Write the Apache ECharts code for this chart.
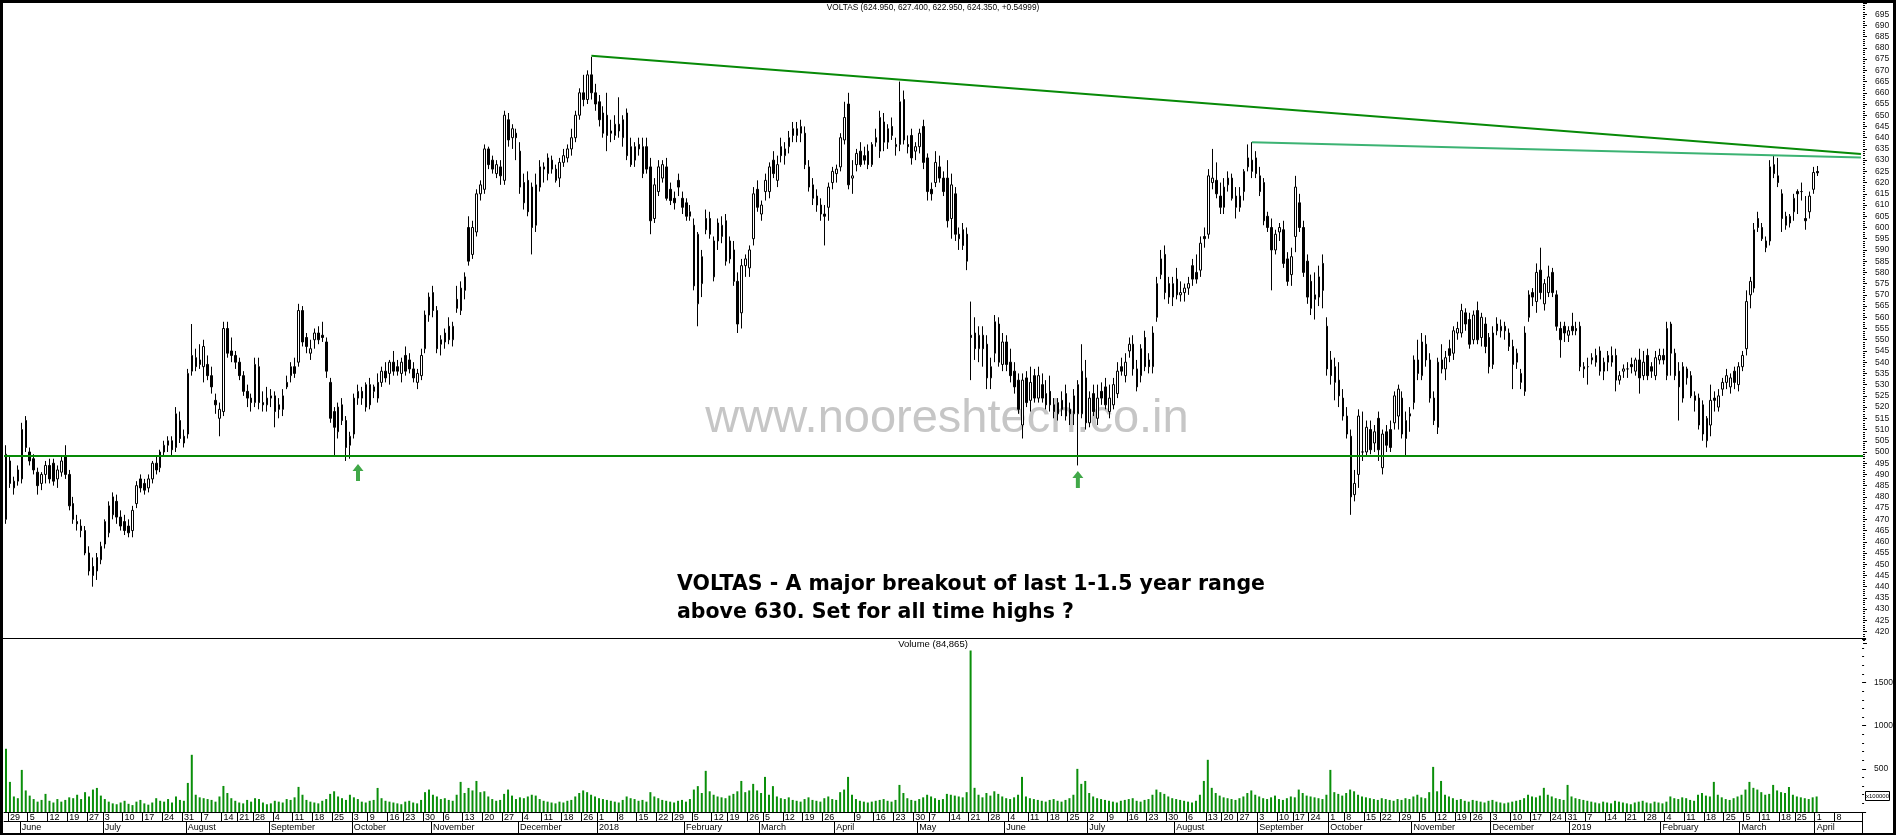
<!DOCTYPE html>
<html><head><meta charset="utf-8">
<script src="https://cdn.jsdelivr.net/npm/echarts@6/dist/echarts.min.js"></script>
<style>html,body{margin:0;padding:0;background:#fff;overflow:hidden}#c{width:1896px;height:835px}</style>
</head><body><div id="c"></div>
<script>
// ---------- calendar ----------
const FIRST_DAY = '2017-05-26';
const HOLIDAYS = ['2017-06-26','2017-08-15','2017-08-25','2017-10-02','2017-10-20','2017-12-25',
 '2018-01-26','2018-02-13','2018-03-02','2018-03-29','2018-03-30','2018-05-01','2018-08-15','2018-08-22',
 '2018-09-13','2018-09-20','2018-10-02','2018-10-18','2018-11-08','2018-11-23','2018-12-25',
 '2019-03-04','2019-03-21','2019-04-17','2019-04-19'];
const EMPTY_SLOTS_AFTER = 11;
const MONTH_NAMES = ['January','February','March','April','May','June','July','August','September','October','November','December'];

// ---------- daily candles [open, high, low, close] ----------
// May 26 2017 - Aug 4 2017
const ohlcA = [[470,503,468,499],[496,498,484,486],[484,489,481,487],[487,494,485,492],[488,513,486,510],[514,516,500,502],[500,502,494,496],[497,499,490,492],[491,493,481,485],[486,491,483,490],
[490,496,486,494],[494,497,486,488],[495,497,485,487],[488,494,484,492],[491,498,489,496],[498,503,488,490],[490,492,474,476],[477,480,468,470],[469,472,465,468],[467,470,462,465],
[465,467,454,455],[455,458,445,447],[449,453,440,445],[447,455,443,453],[452,460,450,458],[459,470,457,469],[464,478,462,476],[472,482,470,480],[478,481,468,471],[471,474,465,467],
[469,472,463,465],[467,470,462,464],[465,476,462,474],[477,487,475,485],[488,490,482,484],[486,488,481,483],[484,490,482,488],[488,496,486,495],[495,498,490,492],[493,501,491,500],
[500,505,498,503],[503,507,500,505],[505,507,498,501],[502,520,500,517],[514,518,504,506],[507,510,502,504],[508,537,506,535],[536,557,534,543],[542,546,536,538],[541,548,537,539]];
// Aug 2017 - Oct 2017
const ohlcB = [[538,550,531,547],[539,543,532,534],[534,538,526,529],[523,526,517,521],[515,522,507,519],[518,558,516,555],[555,558,542,544],[545,551,540,543],[543,545,537,540],[540,542,532,534],
[534,536,525,527],[527,530,520,524],[524,526,518,522],[522,542,520,539],[538,542,519,522],[522,527,518,521],[521,529,518,524],[524,528,520,525],[525,527,511,518],[521,524,515,519],
[519,528,516,525],[531,534,528,529],[534,540,531,538],[538,542,533,535],[540,566,538,563],[563,565,547,549],[551,553,544,547],[544,550,541,546],[550,555,546,553],[553,556,548,550],
[552,558,549,551],[549,551,533,536],[531,533,513,515],[518,520,498,511],[509,522,506,520],[521,524,512,514],[514,516,496,502],[503,509,497,507],[508,526,506,524],[524,530,521,527],
[527,529,521,524],[520,531,518,530],[530,533,519,521],[527,530,524,529],[531,535,522,524],[531,538,529,536],[536,540,531,533],[535,541,530,540],[540,545,534,536],[538,541,534,536]];
// Oct 2017 - Dec 2017
const ohlcC = [[535,542,531,540],[543,547,534,536],[541,544,535,537],[537,540,531,533],[531,537,528,535],[534,546,532,543],[546,563,544,561],[561,571,558,569],[571,574,560,563],[563,565,544,546],
[548,552,543,550],[549,555,546,553],[556,560,548,550],[550,558,547,556],[568,574,562,564],[563,576,561,573],[572,580,568,578],[600,605,583,585],[588,603,586,600],[598,617,596,615],
[615,621,612,619],[617,637,615,635],[635,636,626,628],[630,632,624,626],[624,630,622,628],[627,630,619,623],[621,652,619,650],[648,651,636,639],[640,646,635,644],[642,644,630,640],
[634,638,615,618],[620,624,608,611],[621,625,605,607],[618,620,588,600],[601,624,598,619],[618,630,616,627],[626,629,620,627],[624,633,621,631],[630,632,624,626],[626,628,620,621],
[622,631,618,629],[629,635,627,632],[631,637,629,635],[635,644,632,640],[640,652,638,650],[650,662,648,660],[660,668,654,657],[657,670,655,668],[668,676,657,660],[660,664,652,655]];
// Jan 2018 - Mar 2018
const ohlcD = [[656,659,645,648],[651,654,640,642],[650,660,634,641],[643,648,638,642],[641,650,639,646],[646,658,640,643],[640,650,636,648],[651,653,630,632],[636,640,627,628],[630,638,627,636],
[637,640,632,635],[636,640,622,624],[636,640,624,626],[627,631,597,603],[604,622,602,619],[616,630,614,627],[622,630,620,628],[627,631,612,613],[617,620,610,612],[613,616,608,611],
[621,624,614,618],[613,616,606,609],[611,613,603,605],[605,610,603,607],[601,604,572,574],[566,598,556,597],[575,590,569,587],[604,608,597,599],[604,607,595,597],[578,596,576,594],
[594,604,590,602],[596,605,593,601],[603,606,583,585],[594,596,584,586],[590,594,574,576],[576,580,553,557],[562,586,555,583],[583,588,578,586],[582,592,578,590],[595,618,592,615],
[617,621,607,609],[606,612,603,610],[616,624,612,621],[616,629,613,627],[630,634,622,624],[621,632,618,628],[636,640,629,632],[632,638,628,635],[636,643,633,640],[644,647,638,641]];
// Mar 2018 - May 2018
const ohlcE = [[641,647,638,644],[642,648,638,645],[642,645,626,628],[627,630,616,618],[613,622,610,619],[614,617,607,610],[610,613,603,606],[606,610,592,605],[609,620,603,618],[620,627,617,625],
[624,628,620,626],[627,642,625,640],[639,656,637,649],[655,660,617,619],[622,630,615,623],[628,635,625,633],[634,638,627,628],[632,636,628,630],[634,637,626,628],[628,638,627,637],
[640,644,636,638],[634,652,631,649],[647,651,634,638],[638,646,635,644],[645,649,639,641],[636,640,632,637],[637,665,634,656],[657,661,637,639],[637,641,633,636],[641,644,628,631],
[634,638,630,636],[636,644,633,642],[645,648,626,629],[631,633,612,616],[617,620,612,615],[620,634,618,629],[627,632,620,622],[622,625,614,616],[622,630,600,603],[604,624,595,619],
[615,618,594,597],[597,600,590,595],[599,602,590,592],[597,600,581,585],[552,567,532,551],[553,560,541,546],[546,556,540,552],[552,556,538,546],[548,552,528,533],[533,542,528,538]];
// May 2018 - Aug 2018
const ohlcF = [[544,561,540,558],[557,560,538,540],[539,553,536,549],[549,552,536,539],[540,546,531,534],[536,540,526,529],[532,535,517,519],[512,535,506,532],[533,536,520,522],[523,538,518,531],
[534,537,522,524],[524,538,522,534],[530,535,522,524],[526,532,519,521],[527,534,518,521],[521,524,515,518],[517,524,514,522],[523,527,516,519],[526,530,514,516],[519,522,512,517],
[517,528,512,525],[517,532,494,530],[517,548,515,536],[533,541,510,513],[513,527,511,524],[526,530,516,518],[515,530,512,524],[527,531,521,524],[529,533,519,521],[518,530,515,524],
[521,533,519,530],[526,540,524,536],[538,542,534,536],[534,544,531,540],[545,551,542,548],[548,552,534,537],[537,541,527,529],[534,548,531,546],[551,554,536,538],[541,544,535,538],
[538,556,535,553],[560,578,558,575],[579,590,577,586],[588,592,568,571],[575,578,566,569],[569,578,565,575],[577,582,568,570],[570,576,567,571],[571,575,567,573],[573,578,570,575]];
// Aug 2018 - Oct 2018
const ohlcG = [[583,586,574,577],[580,588,575,577],[581,596,578,593],[596,600,591,595],[597,626,595,623],[620,635,617,622],[621,629,613,615],[614,620,606,609],[609,622,606,618],[619,625,616,622],
[622,624,612,613],[614,618,604,609],[609,618,607,614],[616,626,612,625],[627,637,625,631],[630,638,622,625],[631,634,622,624],[623,627,614,616],[620,622,601,603],[605,607,598,600],
[600,604,572,590],[590,599,588,597],[598,602,594,600],[599,603,582,584],[586,589,574,576],[579,591,574,587],[596,623,589,618],[611,615,598,600],[600,603,578,580],[585,588,566,569],
[576,579,561,564],[568,580,559,570],[569,583,565,578],[584,588,564,572],[556,560,534,537],[541,545,530,534],[531,542,523,538],[532,540,520,525],[524,528,514,516],[516,520,506,508],
[507,510,472,480],[481,492,478,486],[490,519,484,516],[500,518,496,500],[500,514,498,511],[510,514,499,501],[504,512,500,509],[515,518,496,501],[493,510,490,508],[509,512,500,503]];
// Oct 2018 - Jan 2019
const ohlcH = [[510,514,500,502],[513,527,510,525],[516,530,510,528],[524,527,506,508],[506,518,498,514],[517,520,509,516],[522,543,519,541],[541,550,532,535],[534,553,532,549],[548,552,538,541],
[541,544,522,524],[524,527,512,514],[511,542,508,540],[541,548,535,537],[537,545,532,542],[546,550,540,543],[544,556,541,554],[553,558,550,555],[553,566,551,563],[562,564,554,557],
[559,562,546,548],[550,563,548,561],[563,567,548,550],[551,562,547,560],[557,560,544,547],[551,553,535,538],[539,556,537,553],[557,560,552,554],[554,559,551,556],[556,558,550,554],
[547,555,545,553],[547,550,528,539],[540,546,537,544],[531,537,528,535],[527,556,525,553],[560,572,558,570],[571,573,565,569],[567,584,562,580],[581,591,568,571],[566,577,563,575],
[571,583,569,578],[580,582,569,571],[570,572,554,556],[555,558,542,550],[556,558,549,553],[552,556,549,554],[556,562,552,554],[555,558,552,554],[556,558,536,538],[537,540,533,538]];
// Jan 2019 - Apr 1 2019
const ohlcI = [[538,542,530,538],[541,544,539,542],[543,546,538,540],[545,547,534,536],[536,542,532,540],[540,545,536,543],[540,547,538,543],[543,546,527,532],[532,536,530,534],[536,539,533,537],
[537,540,533,537],[539,542,535,538],[536,542,534,541],[541,546,526,533],[534,545,532,540],[543,546,532,534],[538,540,533,536],[534,545,532,542],[541,546,539,543],[543,546,539,541],
[534,558,532,555],[557,558,534,544],[544,546,532,534],[536,540,514,529],[524,540,522,538],[533,538,530,537],[534,536,524,525],[525,527,518,523],[524,526,510,512],[521,523,505,508],
[505,516,502,515],[512,530,507,523],[524,527,518,523],[520,528,518,525],[528,533,525,531],[531,537,528,534],[529,535,526,533],[536,538,528,531],[530,540,527,538],[538,545,536,543],
[546,572,543,567],[570,578,564,576],[573,602,571,599],[604,607,598,600],[600,602,594,595],[591,596,589,594],[594,630,592,627],[628,632,622,624],[623,631,618,620],[615,617,598,604],
[605,607,599,601],[602,606,600,605],[607,615,603,613],[616,617,606,615],[616,620,612,616],[604,614,599,603],[607,616,604,614],[617,627,615,624.5],[624.95,627.4,622.95,624.35]];

// ---------- daily volume (x100000) ----------
const volA = [733,349,180,160,488,250,190,150,120,140,210,130,110,150,120,140,170,160,200,150,230,180,260,279,190,150,120,100,90,110,130,95,80,120,140,100,85,110,160,130,120,150,110,180,140,130,337,663,200,170];
const volB = [160,150,140,120,180,302,220,160,130,110,100,140,120,160,150,110,90,100,130,120,110,150,140,170,291,200,140,120,110,100,130,150,210,240,180,160,140,200,170,150,120,110,130,140,279,160,130,120,110,100];
const volC = [90,120,130,110,100,140,230,260,200,180,150,160,140,130,200,349,220,279,250,360,230,240,180,150,130,140,210,260,190,150,170,160,180,200,190,150,130,120,110,100,120,110,130,140,180,220,250,230,200,180];
const volD = [160,150,140,130,120,110,140,180,160,150,130,140,120,230,180,160,140,130,120,110,130,140,120,150,260,300,220,477,240,200,180,170,160,190,210,240,360,230,250,326,250,220,407,200,300,180,160,150,170,140];
const volE = [130,120,150,170,140,130,120,160,180,150,140,230,260,407,200,150,130,120,110,120,130,140,150,130,120,140,314,220,160,140,130,150,170,200,180,160,140,150,210,200,190,180,170,230,1872,280,200,170,220,190];
const volF = [240,210,180,160,150,170,200,407,180,160,150,140,130,120,140,150,130,120,140,160,200,500,326,360,220,180,160,150,140,130,120,110,130,140,150,160,130,120,140,150,200,260,230,210,180,160,150,140,130,120];
const volG = [110,130,200,360,605,280,220,190,170,160,150,140,160,180,220,250,200,180,160,150,170,190,150,140,160,180,170,260,220,190,180,170,160,150,200,488,230,210,190,220,260,240,200,180,170,160,150,140,160,150];
const volH = [140,130,150,140,160,150,180,200,170,160,230,523,240,360,200,180,160,140,150,130,120,140,130,120,110,130,140,120,110,100,110,120,130,140,160,200,180,170,190,280,200,180,160,150,140,314,180,160,150,140];
const volI = [130,120,110,100,120,110,100,130,120,110,100,90,110,120,130,110,100,120,110,100,120,180,160,150,170,160,140,130,200,220,190,180,349,200,170,150,140,160,180,200,260,349,280,260,230,200,210,314,250,230,220,290,200,180,170,160,150,170,180];

// ---------- drawn annotations (data space) ----------
const SUPPORT_LEVEL = 498.4;
const TREND_MAIN = [[148, 676.5], [469, 632.7]];
const TREND_RECENT = [[315, 638], [469, 631.2]];
const ARROWS = [[89, 494.7], [271, 491.5]];
const PRICE_TICKS = {min: 415, max: 700, step: 5, firstLabel: 420, lastLabel: 695};
const VOLUME_TICKS = {min: 0, max: 2017, step: 500};
const TITLE = 'VOLTAS (624.950, 627.400, 622.950, 624.350, +0.54999)';
const VOLUME_TITLE = 'Volume (84,865)';
const NOTE_1 = 'VOLTAS - A major breakout of last 1-1.5 year range';
const NOTE_2 = 'above 630. Set for all time highs ?';
const WATERMARK = 'www.nooreshtech.co.in';

// ---------- build ----------
const ohlc = [].concat(ohlcA, ohlcB, ohlcC, ohlcD, ohlcE, ohlcF, ohlcG, ohlcH, ohlcI);
const volume = [].concat(volA, volB, volC, volD, volE, volF, volG, volH, volI);
const nSlots = ohlc.length + EMPTY_SLOTS_AFTER;
const dates = [];
(function(){
  let d = new Date(FIRST_DAY + 'T00:00:00Z');
  while (dates.length < nSlots) {
    const wd = d.getUTCDay(), s = d.toISOString().slice(0, 10);
    if (wd !== 0 && wd !== 6 && HOLIDAYS.indexOf(s) < 0) dates.push(s);
    d = new Date(d.getTime() + 86400000);
  }
})();
const dayTicks = new Set(), monthTicks = new Set();
let lastShown = -99;
for (let i = 1; i < dates.length; i++) {
  const p = new Date(dates[i-1] + 'T00:00:00Z'), c = new Date(dates[i] + 'T00:00:00Z');
  if (c.getUTCDay() <= p.getUTCDay() || (c - p) >= 7 * 864e5) {
    if (i - lastShown >= 4 && i <= dates.length - 4) { dayTicks.add(i); lastShown = i; }
  }
  if (dates[i].slice(5, 7) !== dates[i-1].slice(5, 7)) monthTicks.add(i);
}
const candleData = dates.map((d, i) => i < ohlc.length ? [ohlc[i][0], ohlc[i][3], ohlc[i][2], ohlc[i][1]] : '-');
const volData = dates.map((d, i) => i < volume.length ? volume[i] : '-');

const chart = echarts.init(document.getElementById('c'), null, {renderer: 'canvas'});
const axisFont = 'Arial, "Liberation Sans", sans-serif';
const option = {
  animation: false,
  backgroundColor: '#ffffff',
  grid: [
    {left: 4, right: 33, top: 3, height: 639.8},
    {left: 4, right: 33, top: 638, height: 174}
  ],
  xAxis: [
    {type: 'category', gridIndex: 0, data: dates, boundaryGap: true, show: false},
    {type: 'category', gridIndex: 1, data: dates, boundaryGap: true, position: 'bottom',
      axisLine: {lineStyle: {color: '#000', width: 1}},
      axisTick: {show: true, interval: (i) => dayTicks.has(i), length: 9, lineStyle: {color: '#000', width: 1}},
      axisLabel: {interval: (i) => dayTicks.has(i), formatter: (v) => String(+v.slice(8)), align: 'left',
        margin: 1, fontSize: 9, color: '#000', fontFamily: axisFont},
      splitLine: {show: false}},
    {type: 'category', gridIndex: 1, data: dates, boundaryGap: true, position: 'bottom', offset: 9,
      axisLine: {lineStyle: {color: '#000', width: 1}},
      axisTick: {show: true, interval: (i) => monthTicks.has(i), length: 12, lineStyle: {color: '#000', width: 1}},
      axisLabel: {interval: (i) => monthTicks.has(i),
        formatter: (v) => { const m = +v.slice(5, 7); return m === 1 ? v.slice(0, 4) : MONTH_NAMES[m - 1]; },
        align: 'left', margin: 2, fontSize: 9, color: '#000', fontFamily: axisFont},
      splitLine: {show: false}}
  ],
  yAxis: [
    {type: 'value', gridIndex: 0, position: 'right', min: PRICE_TICKS.min, max: PRICE_TICKS.max, interval: PRICE_TICKS.step,
      axisLine: {show: false}, splitLine: {show: false},
      axisTick: {show: true, length: 4, lineStyle: {color: '#000'}},
      minorTick: {show: true, splitNumber: 5, length: 2, lineStyle: {color: '#000'}},
      axisLabel: {margin: 12, fontSize: 8.5, color: '#111', fontFamily: axisFont,
        formatter: (v) => (v < PRICE_TICKS.firstLabel || v > PRICE_TICKS.lastLabel) ? '' : String(v)}},
    {type: 'value', gridIndex: 1, position: 'right', min: VOLUME_TICKS.min, max: VOLUME_TICKS.max, interval: VOLUME_TICKS.step,
      axisLine: {show: false}, splitLine: {show: false},
      axisTick: {show: true, length: 4, lineStyle: {color: '#000'}},
      minorTick: {show: true, splitNumber: 5, length: 2, lineStyle: {color: '#000'}},
      axisLabel: {margin: 12, fontSize: 8.5, color: '#111', fontFamily: axisFont,
        formatter: (v) => (v <= 0 || v > 1500) ? '' : String(v)}}
  ],
  series: [
    {type: 'candlestick', name: 'VOLTAS', xAxisIndex: 0, yAxisIndex: 0, data: candleData, barWidth: 2,
      itemStyle: {color: '#ffffff', color0: '#000000', borderColor: '#000000', borderColor0: '#000000', borderColorDoji: '#000000', borderWidth: 1},
      markLine: {silent: true, symbol: ['none', 'none'], animation: false, z: 5, label: {show: false},
        data: [
          [{coord: [dates[TREND_MAIN[0][0]], TREND_MAIN[0][1]], lineStyle: {color: '#078a07', width: 2, type: 'solid'}},
           {coord: [dates[TREND_MAIN[1][0]], TREND_MAIN[1][1]]}],
          [{coord: [dates[TREND_RECENT[0][0]], TREND_RECENT[0][1]], lineStyle: {color: '#3cb373', width: 2, type: 'solid'}},
           {coord: [dates[TREND_RECENT[1][0]], TREND_RECENT[1][1]]}],
          {yAxis: SUPPORT_LEVEL, lineStyle: {color: '#078a07', width: 2, type: 'solid'}}
        ]}},
    {type: 'bar', name: 'Volume', xAxisIndex: 1, yAxisIndex: 1, data: volData, barWidth: 2,
      itemStyle: {color: '#0a8f0a'}},
    {type: 'scatter', name: 'arrows', xAxisIndex: 0, yAxisIndex: 0, silent: true,
      data: ARROWS.map(a => [dates[a[0]], a[1]]),
      symbol: 'path://M5.5,0 L11,7 L7.5,7 L7.5,17 L3.5,17 L3.5,7 L0,7 Z', symbolSize: [11, 17], symbolOffset: [0, 8.5],
      itemStyle: {color: '#12921a'}}
  ],
  graphic: {elements: [
    {type: 'text', x: 933, y: 8, z: 10, style: {text: TITLE, fill: '#000', font: '8.3px ' + axisFont, align: 'center', verticalAlign: 'middle'}},
    {type: 'text', x: 933, y: 644, z: 10, style: {text: VOLUME_TITLE, fill: '#000', font: '9.5px ' + axisFont, align: 'center', verticalAlign: 'middle'}},
    {type: 'text', x: 947, y: 419, z: 1, style: {text: WATERMARK, fill: '#c6c6c6', font: '47px "Liberation Sans", Arial, sans-serif', align: 'center', verticalAlign: 'middle',
      shadowColor: 'rgba(90,90,90,0.7)', shadowOffsetX: 1, shadowOffsetY: 1, shadowBlur: 0}},
    {type: 'text', x: 677, y: 585, z: 10, style: {text: NOTE_1, fill: '#000', font: 'bold 20.5px "DejaVu Sans", Verdana, sans-serif', align: 'left', verticalAlign: 'middle'}},
    {type: 'text', x: 677, y: 613, z: 10, style: {text: NOTE_2, fill: '#000', font: 'bold 20.5px "DejaVu Sans", Verdana, sans-serif', align: 'left', verticalAlign: 'middle'}},
    {type: 'line', z: 10, shape: {x1: 3, y1: 638.5, x2: 1863, y2: 638.5}, style: {stroke: '#000', lineWidth: 1}},
    {type: 'rect', z: 10, shape: {x: 1865.5, y: 791.5, width: 24, height: 9}, style: {fill: '#fff', stroke: '#000', lineWidth: 1}},
    {type: 'text', x: 1877.5, y: 796, z: 11, style: {text: 'x100000', fill: '#000', font: '6px ' + axisFont, align: 'center', verticalAlign: 'middle'}},
    {type: 'rect', z: 20, shape: {x: 0, y: 0, width: 1896, height: 3}, style: {fill: '#000'}},
    {type: 'rect', z: 20, shape: {x: 0, y: 0, width: 3, height: 835}, style: {fill: '#000'}},
    {type: 'rect', z: 20, shape: {x: 1893, y: 0, width: 3, height: 835}, style: {fill: '#000'}},
    {type: 'rect', z: 20, shape: {x: 0, y: 833, width: 1896, height: 2}, style: {fill: '#000'}}
  ]}
};
chart.setOption(option);
</script></body></html>
